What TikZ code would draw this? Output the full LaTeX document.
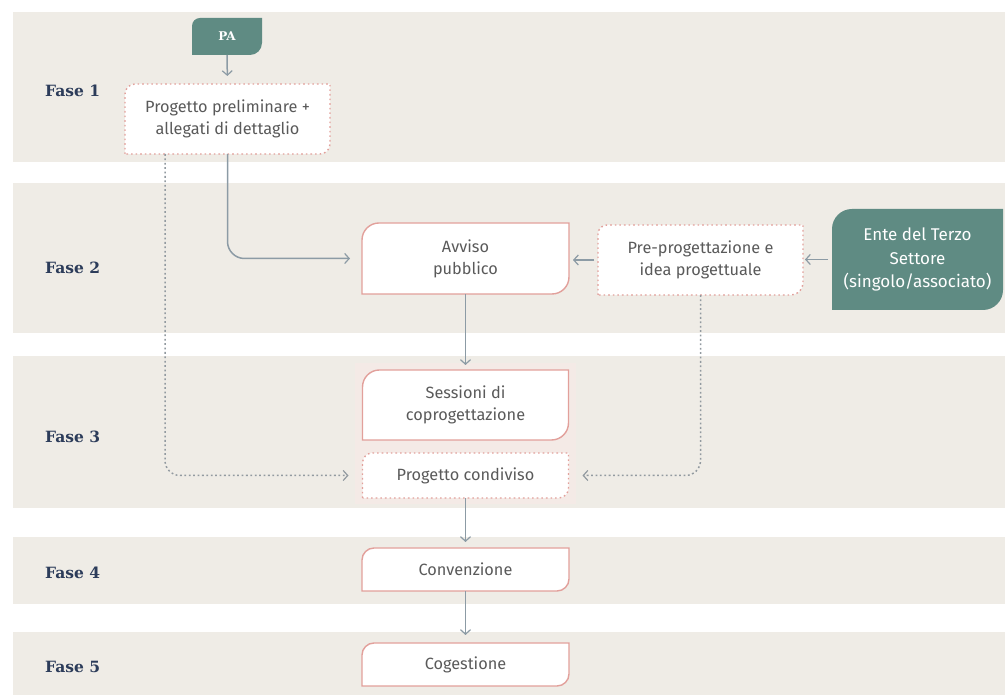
\documentclass[tikz,border=0pt]{standalone}
\usepackage{fontspec}
\usetikzlibrary{arrows.meta}
\newfontfamily\boxfont{Fira Sans}
\newfontfamily\fasefont{DejaVu Serif}
\definecolor{bandbg}{HTML}{EFECE6}
\definecolor{tealc}{HTML}{5F8B83}
\definecolor{pinkb}{HTML}{E2A09B}
\definecolor{halo}{HTML}{F4EAE6}
\definecolor{txtg}{HTML}{5A5A5A}
\definecolor{navy}{HTML}{2C3C5A}
\definecolor{arrowc}{HTML}{8C9BA5}
\definecolor{dotc}{HTML}{929AA0}
\pgfdeclarelayer{bg}
\pgfdeclarelayer{mid}
\pgfsetlayers{bg,mid,main}
\newcommand\cbox[4]{%
  \begin{pgfonlayer}{mid}
  \path[#4] (#1.south west) -- ([yshift=-#2]#1.north west)
    arc[start angle=180,end angle=90,radius=#2] -- (#1.north east)
    -- ([yshift=#3]#1.south east)
    arc[start angle=0,end angle=-90,radius=#3] -- cycle;
  \end{pgfonlayer}}
\begin{document}
\begin{tikzpicture}[x=1pt,y=1pt,
  box/.style={inner sep=0pt, outer sep=0pt, align=center, text=txtg,
    font=\boxfont\fontsize{16.3}{22}\selectfont},
  tealbox/.style={inner sep=0pt, outer sep=0pt, align=center, text=white},
  fase/.style={anchor=west, inner sep=0pt, text=navy,
    font=\fasefont\bfseries\fontsize{15.5}{18}\selectfont},
  solidb/.style={draw=pinkb, line width=1.4pt, fill=white},
  dotb/.style={draw=pinkb, line width=1.4pt, dash pattern=on 1.6pt off 3pt, fill=white},
  tealf/.style={fill=tealc},
  conn/.style={draw=arrowc, line width=1.5pt, -{Straight Barb[length=4.5pt,width=10pt,line width=1.2pt]}},
  dotconn/.style={draw=dotc, line width=1.5pt, dash pattern=on 1.8pt off 2.6pt,
    -{Straight Barb[length=4.5pt,width=10pt,line width=1.2pt]}}]
\useasboundingbox (0,0) rectangle (1005,695);
\begin{pgfonlayer}{bg}
\fill[white] (0,0) rectangle (1005,695);
\fill[bandbg] (13,533) rectangle (1005,683);
\fill[bandbg] (13,362) rectangle (1005,512);
\fill[bandbg] (13,187) rectangle (1005,339);
\fill[bandbg] (13,91) rectangle (1005,158);
\fill[bandbg] (13,0) rectangle (1005,63);
\fill[halo] (355,191) rectangle (576,332);
\end{pgfonlayer}

% phase labels
\node[fase] (f1) at (45,604) {Fase 1};
\node[fase] (f2) at (45,427) {Fase 2};
\node[fase] (f3) at (45,258) {Fase 3};
\node[fase] (f4) at (45,122) {Fase 4};
\node[fase] (f5) at (45,28) {Fase 5};

% nodes
\node[tealbox, minimum width=70pt, minimum height=37pt,
  font=\fasefont\bfseries\fontsize{12}{14}\selectfont] (pa) at (227,658.5) {PA};
\node[box, minimum width=205pt, minimum height=70pt] (prelim) at (227.5,576)
  {Progetto preliminare +\\allegati di dettaglio};
\node[box, minimum width=207pt, minimum height=71pt] (avviso) at (465.5,436.5)
  {Avviso\\pubblico};
\node[box, minimum width=205pt, minimum height=70pt] (preprog) at (700.5,435)
  {Pre-progettazione e\\idea progettuale};
\node[tealbox, minimum width=171pt, minimum height=101pt,
  font=\boxfont\fontsize{17}{23.5}\selectfont] (ente) at (917.5,435.5)
  {Ente del Terzo\\Settore\\(singolo/associato)};
\node[box, minimum width=206pt, minimum height=70pt] (sessioni) at (465.5,290)
  {Sessioni di\\coprogettazione};
\node[box, minimum width=206pt, minimum height=45pt] (condiviso) at (465.5,219.5)
  {Progetto condiviso};
\node[box, minimum width=207pt, minimum height=43pt] (convenzione) at (465.5,125.5)
  {Convenzione};
\node[box, minimum width=207pt, minimum height=43pt] (cogestione) at (465.5,30.5)
  {Cogestione};

% shapes
\cbox{pa}{8pt}{12pt}{tealf}
\cbox{prelim}{10pt}{10pt}{dotb}
\cbox{avviso}{17pt}{17pt}{solidb}
\cbox{preprog}{9pt}{12pt}{dotb}
\cbox{ente}{20pt}{20pt}{tealf}
\cbox{sessioni}{17pt}{17pt}{solidb}
\cbox{condiviso}{10pt}{10pt}{dotb}
\cbox{convenzione}{12pt}{12pt}{solidb}
\cbox{cogestione}{12pt}{12pt}{solidb}

% connectors
\draw[conn, shorten >=8pt] (pa.south) -- (prelim.north);
\draw[conn, rounded corners=17pt, shorten >=12pt] (prelim.south) |- (avviso.west);
\draw[dotconn, rounded corners=15pt, shorten >=14pt] ([xshift=-62.5pt]prelim.south) |- (condiviso.west);
\draw[conn, shorten <=4pt, shorten >=4pt] (preprog.west) -- (avviso.east |- preprog.west);
\draw[conn, shorten <=4pt, shorten >=2pt] (ente.west) -- (preprog.east |- ente.west);
\draw[conn, shorten >=5pt] (avviso.south) -- (avviso.south |- sessioni.north);
\draw[dotconn, rounded corners=15pt, shorten >=14pt] (preprog.south) |- (condiviso.east);
\draw[conn, shorten >=6pt] (condiviso.south) -- (convenzione.north);
\draw[conn, shorten >=8pt] (convenzione.south) -- (cogestione.north);
\end{tikzpicture}
\end{document}
